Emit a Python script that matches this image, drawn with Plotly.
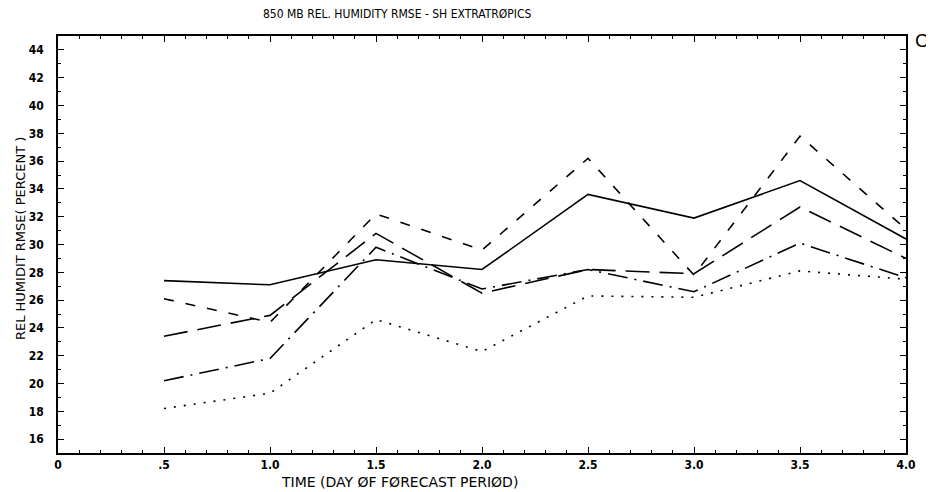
import plotly.graph_objects as go

days = [0.5, 1.0, 1.5, 2.0, 2.5, 3.0, 3.5, 4.0]
solid_vals = [27.4, 27.1, 28.9, 28.2, 33.6, 31.9, 34.6, 30.4]
short_dash_vals = [26.1, 24.4, 32.2, 29.6, 36.2, 27.8, 37.8, 31.1]
long_dash_vals = [23.4, 24.9, 30.8, 26.5, 28.2, 27.9, 32.7, 29.0]
dash_dot_vals = [20.2, 21.8, 29.8, 26.8, 28.2, 26.6, 30.1, 27.6]
dotted_vals = [18.2, 19.3, 24.6, 22.3, 26.3, 26.2, 28.1, 27.5]

x_tickvals = [0, 0.5, 1.0, 1.5, 2.0, 2.5, 3.0, 3.5, 4.0]
x_ticktext = ["0", ".5", "1.0", "1.5", "2.0", "2.5", "3.0", "3.5", "4.0"]
y_tickvals = list(range(16, 45, 2))

FONT = "DejaVu Sans Condensed, DejaVu Sans, sans-serif"
WIDE = "DejaVu Sans, sans-serif"

fig = go.Figure()
series = [
    (solid_vals, "solid"),
    (short_dash_vals, "10px,12px"),
    (long_dash_vals, "24px,10px"),
    (dash_dot_vals, "20px,7px,2px,7px"),
    (dotted_vals, "2px,8px"),
]
for vals, dash in series:
    fig.add_trace(go.Scatter(x=days, y=vals, mode="lines",
                             line=dict(color="black", width=1.6, dash=dash),
                             showlegend=False, hoverinfo="skip"))

# page body has an 8px default margin, so figure is shrunk accordingly
fig.update_layout(
    width=926, height=484,
    margin=dict(l=50, r=28, t=28, b=39),
    paper_bgcolor="white", plot_bgcolor="white",
    font=dict(family=FONT, color="black"),
)
fig.update_xaxes(
    range=[0, 4], tickvals=x_tickvals, ticktext=x_ticktext,
    ticks="inside", ticklen=6, tickwidth=1.2, tickcolor="black",
    minor=dict(dtick=0.1, ticks="inside", ticklen=3, tickcolor="black", showgrid=False),
    showline=True, linecolor="black", linewidth=1.5, mirror="allticks",
    showgrid=False, zeroline=False, automargin=False,
    tickfont=dict(size=12, family=FONT, weight="bold"),
)
fig.update_yaxes(
    range=[15, 45], tickvals=y_tickvals,
    ticks="inside", ticklen=6, tickwidth=1.2, tickcolor="black",
    minor=dict(dtick=1, tick0=15, ticks="inside", ticklen=3, tickcolor="black", showgrid=False),
    showline=True, linecolor="black", linewidth=1.5, mirror="allticks",
    showgrid=False, zeroline=False, automargin=False,
    tickfont=dict(size=12, family=FONT, weight="bold"),
    ticklabelstandoff=10,
)
fig.add_annotation(text="850 MB REL. HUMIDITY RMSE - SH EXTRATRØPICS",
                   xref="paper", yref="paper", x=0.400, y=1.053,
                   xanchor="center", yanchor="middle", showarrow=False,
                   font=dict(size=12, family=FONT))
fig.add_annotation(text="TIME (DAY ØF FØRECAST PERIØD)",
                   xref="paper", yref="paper", x=0.403, y=-0.07,
                   xanchor="center", yanchor="middle", showarrow=False,
                   font=dict(size=14, family=WIDE))
fig.add_annotation(text="REL HUMIDIT RMSE( PERCENT )",
                   xref="paper", yref="paper", x=-0.045, y=0.515,
                   xanchor="center", yanchor="middle", showarrow=False,
                   textangle=-90, font=dict(size=13, family=WIDE))
fig.add_annotation(text="C", xref="paper", yref="paper", x=1.008, y=0.99,
                   xanchor="left", yanchor="middle", showarrow=False,
                   font=dict(size=19, family="Liberation Sans, sans-serif"))

fig.write_html("out.html")
